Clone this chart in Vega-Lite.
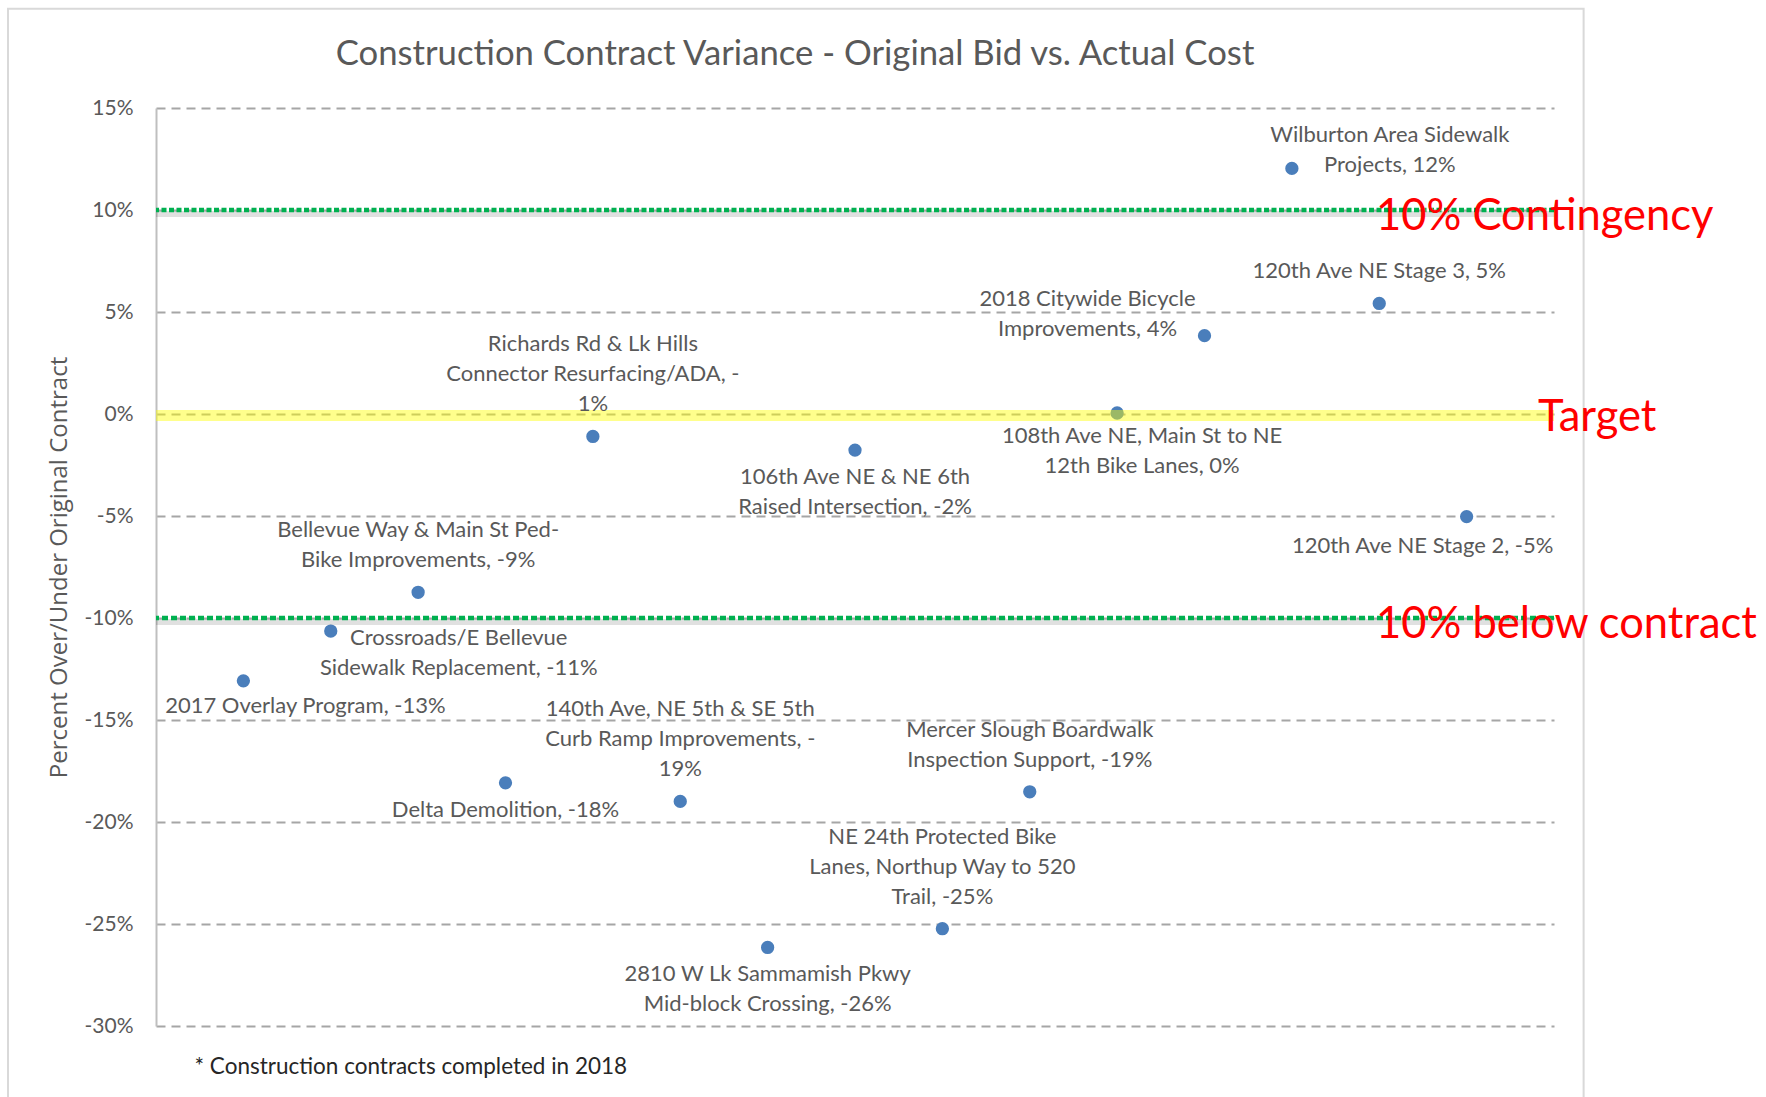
{
  "$schema": "https://vega.github.io/schema/vega-lite/v6.json",
  "width": 1398,
  "height": 918,
  "autosize": {"type": "none"},
  "padding": {"left": 156, "top": 108, "right": 212, "bottom": 71},
  "background": "#ffffff",
  "config": {"view": {"stroke": null}},
  "title": {
    "text": "Construction Contract Variance - Original Bid vs. Actual Cost",
    "font": "Lato", "fontSize": 34.7, "fontWeight": "normal", "color": "#595959",
    "anchor": "middle", "frame": "group", "dx": -60, "baseline": "alphabetic", "offset": 0, "dy": 92
  },
  "datasets": {
    "projects": [
      {"n": 1, "pct": -13.08, "label": "2017 Overlay Program, -13%"},
      {"n": 2, "pct": -10.64, "label": "Crossroads/E Bellevue\nSidewalk Replacement, -11%"},
      {"n": 3, "pct": -8.74, "label": "Bellevue Way & Main St Ped-\nBike Improvements, -9%"},
      {"n": 4, "pct": -18.08, "label": "Delta Demolition, -18%"},
      {"n": 5, "pct": -1.10, "label": "Richards Rd & Lk Hills\nConnector Resurfacing/ADA, -\n1%"},
      {"n": 6, "pct": -18.99, "label": "140th Ave, NE 5th & SE 5th\nCurb Ramp Improvements, -\n19%"},
      {"n": 7, "pct": -26.15, "label": "2810 W Lk Sammamish Pkwy\nMid-block Crossing, -26%"},
      {"n": 8, "pct": -1.77, "label": "106th Ave NE & NE 6th\nRaised Intersection, -2%"},
      {"n": 9, "pct": -25.23, "label": "NE 24th Protected Bike\nLanes, Northup Way to 520\nTrail, -25%"},
      {"n": 10, "pct": -18.52, "label": "Mercer Slough Boardwalk\nInspection Support, -19%"},
      {"n": 11, "pct": 0.05, "label": "108th Ave NE, Main St to NE\n12th Bike Lanes, 0%"},
      {"n": 12, "pct": 3.84, "label": "2018 Citywide Bicycle\nImprovements, 4%"},
      {"n": 13, "pct": 12.04, "label": "Wilburton Area Sidewalk\nProjects, 12%"},
      {"n": 14, "pct": 5.42, "label": "120th Ave NE Stage 3, 5%"},
      {"n": 15, "pct": -5.03, "label": "120th Ave NE Stage 2, -5%"}
    ],
    "refs": [
      {"pct": 10, "note": "10% Contingency"},
      {"pct": 0, "note": "Target"},
      {"pct": -10, "note": "10% below contract"}
    ]
  },
  "layer": [
    {
      "data": {"values": [{}]},
      "mark": {"type": "rect", "fill": "transparent", "stroke": "#D9D9D9", "strokeWidth": 2},
      "encoding": {
        "x": {"datum": -1.694}, "x2": {"datum": 16.339},
        "y": {"datum": 19.87}, "y2": {"datum": -33.7}
      }
    },
    {
      "data": {"name": "projects"},
      "mark": {"type": "circle", "size": 177, "color": "#4A7EBB", "opacity": 1},
      "encoding": {
        "x": {"field": "n", "type": "quantitative", "scale": {"domain": [0, 16], "nice": false},
          "axis": {"title": "* Construction contracts completed in 2018", "domain": false, "ticks": false, "labels": false, "grid": false,
            "titleFont": "Lato", "titleFontSize": 22.5, "titleFontWeight": "normal", "titleColor": "#262626",
            "titleX": 38, "titleY": 40, "titleAlign": "left", "titleBaseline": "middle", "titleAnchor": "start"}},
        "y": {"field": "pct", "type": "quantitative", "title": "Percent Over/Under Original Contract",
          "scale": {"domain": [-30, 15], "nice": false, "zero": false},
          "axis": {"values": [-30, -25, -20, -15, -10, -5, 0, 5, 10, 15], "labelExpr": "datum.value + '%'",
            "domainColor": "#BFBFBF", "domainWidth": 2, "ticks": false, "labelPadding": 23,
            "labelFont": "Lato", "labelFontSize": 21, "labelColor": "#595959",
            "grid": true, "gridColor": "#A6A6A6", "gridDash": [9, 6], "gridWidth": 2,
            "titleFont": "Open Sans", "titleFontSize": 24, "titleFontWeight": "normal", "titleColor": "#595959",
            "titleX": -97, "titleY": 459, "titleAngle": -90, "titleAlign": "center", "titleBaseline": "middle"}}
      }
    },
    {
      "data": {"name": "refs"},
      "transform": [{"filter": {"field": "pct", "oneOf": [10, -10]}}],
      "mark": {"type": "rule", "color": "#000000", "opacity": 0.12, "strokeWidth": 6, "yOffset": 4},
      "encoding": {"y": {"field": "pct", "type": "quantitative", "title": "Percent Over/Under Original Contract"}}
    },
    {
      "data": {"name": "refs"},
      "transform": [{"filter": {"field": "pct", "equal": 10}}],
      "mark": {"type": "rule", "color": "#00B050", "strokeWidth": 4.5, "strokeDash": [5, 2.5]},
      "encoding": {"y": {"field": "pct", "type": "quantitative", "title": "Percent Over/Under Original Contract"}}
    },
    {
      "data": {"name": "refs"},
      "transform": [{"filter": {"field": "pct", "equal": -10}}],
      "mark": {"type": "rule", "color": "#00B050", "strokeWidth": 4.5, "strokeDash": [6, 3]},
      "encoding": {"y": {"field": "pct", "type": "quantitative", "title": "Percent Over/Under Original Contract"}}
    },
    {
      "data": {"name": "refs"},
      "transform": [{"filter": {"field": "pct", "equal": 0}}],
      "mark": {"type": "rule", "color": "#FFFF00", "opacity": 0.45, "strokeWidth": 11, "yOffset": 1.5},
      "encoding": {"y": {"field": "pct", "type": "quantitative", "title": "Percent Over/Under Original Contract"}}
    },
    {
      "data": {"name": "projects"},
      "transform": [{"filter": {"field": "n", "equal": 14}}],
      "mark": {"type": "text", "font": "Lato", "fontSize": 22, "color": "#595959", "lineBreak": "\n", "lineHeight": 30, "align": "center", "baseline": "bottom", "dy": -20},
      "encoding": {
        "x": {"field": "n", "type": "quantitative", "title": "* Construction contracts completed in 2018"},
        "y": {"field": "pct", "type": "quantitative", "title": "Percent Over/Under Original Contract"},
        "text": {"field": "label"}
      }
    },
    {
      "data": {"name": "projects"},
      "transform": [{"filter": {"field": "n", "oneOf": [3, 10]}}],
      "mark": {"type": "text", "font": "Lato", "fontSize": 22, "color": "#595959", "lineBreak": "\n", "lineHeight": 30, "align": "center", "baseline": "bottom", "dy": -50},
      "encoding": {
        "x": {"field": "n", "type": "quantitative", "title": "* Construction contracts completed in 2018"},
        "y": {"field": "pct", "type": "quantitative", "title": "Percent Over/Under Original Contract"},
        "text": {"field": "label"}
      }
    },
    {
      "data": {"name": "projects"},
      "transform": [{"filter": {"field": "n", "oneOf": [5, 6, 9]}}],
      "mark": {"type": "text", "font": "Lato", "fontSize": 22, "color": "#595959", "lineBreak": "\n", "lineHeight": 30, "align": "center", "baseline": "bottom", "dy": -80},
      "encoding": {
        "x": {"field": "n", "type": "quantitative", "title": "* Construction contracts completed in 2018"},
        "y": {"field": "pct", "type": "quantitative", "title": "Percent Over/Under Original Contract"},
        "text": {"field": "label"}
      }
    },
    {
      "data": {"name": "projects"},
      "transform": [{"filter": {"field": "n", "oneOf": [4, 7, 8]}}],
      "mark": {"type": "text", "font": "Lato", "fontSize": 22, "color": "#595959", "lineBreak": "\n", "lineHeight": 30, "align": "center", "baseline": "top", "dy": 17},
      "encoding": {
        "x": {"field": "n", "type": "quantitative", "title": "* Construction contracts completed in 2018"},
        "y": {"field": "pct", "type": "quantitative", "title": "Percent Over/Under Original Contract"},
        "text": {"field": "label"}
      }
    },
    {
      "data": {"name": "projects"},
      "transform": [{"filter": {"field": "n", "equal": 1}}],
      "mark": {"type": "text", "font": "Lato", "fontSize": 22, "color": "#595959", "lineBreak": "\n", "lineHeight": 30, "align": "center", "baseline": "middle", "dx": 62, "dy": 25},
      "encoding": {
        "x": {"field": "n", "type": "quantitative", "title": "* Construction contracts completed in 2018"},
        "y": {"field": "pct", "type": "quantitative", "title": "Percent Over/Under Original Contract"},
        "text": {"field": "label"}
      }
    },
    {
      "data": {"name": "projects"},
      "transform": [{"filter": {"field": "n", "equal": 2}}],
      "mark": {"type": "text", "font": "Lato", "fontSize": 22, "color": "#595959", "lineBreak": "\n", "lineHeight": 30, "align": "center", "baseline": "middle", "dx": 128, "dy": 7},
      "encoding": {
        "x": {"field": "n", "type": "quantitative", "title": "* Construction contracts completed in 2018"},
        "y": {"field": "pct", "type": "quantitative", "title": "Percent Over/Under Original Contract"},
        "text": {"field": "label"}
      }
    },
    {
      "data": {"name": "projects"},
      "transform": [{"filter": {"field": "n", "equal": 11}}],
      "mark": {"type": "text", "font": "Lato", "fontSize": 22, "color": "#595959", "lineBreak": "\n", "lineHeight": 30, "align": "center", "baseline": "middle", "dx": 25, "dy": 23},
      "encoding": {
        "x": {"field": "n", "type": "quantitative", "title": "* Construction contracts completed in 2018"},
        "y": {"field": "pct", "type": "quantitative", "title": "Percent Over/Under Original Contract"},
        "text": {"field": "label"}
      }
    },
    {
      "data": {"name": "projects"},
      "transform": [{"filter": {"field": "n", "equal": 12}}],
      "mark": {"type": "text", "font": "Lato", "fontSize": 22, "color": "#595959", "lineBreak": "\n", "lineHeight": 30, "align": "center", "baseline": "middle", "dx": -117, "dy": -37},
      "encoding": {
        "x": {"field": "n", "type": "quantitative", "title": "* Construction contracts completed in 2018"},
        "y": {"field": "pct", "type": "quantitative", "title": "Percent Over/Under Original Contract"},
        "text": {"field": "label"}
      }
    },
    {
      "data": {"name": "projects"},
      "transform": [{"filter": {"field": "n", "equal": 13}}],
      "mark": {"type": "text", "font": "Lato", "fontSize": 22, "color": "#595959", "lineBreak": "\n", "lineHeight": 30, "align": "center", "baseline": "middle", "dx": 98, "dy": -33},
      "encoding": {
        "x": {"field": "n", "type": "quantitative", "title": "* Construction contracts completed in 2018"},
        "y": {"field": "pct", "type": "quantitative", "title": "Percent Over/Under Original Contract"},
        "text": {"field": "label"}
      }
    },
    {
      "data": {"name": "projects"},
      "transform": [{"filter": {"field": "n", "equal": 15}}],
      "mark": {"type": "text", "font": "Lato", "fontSize": 22, "color": "#595959", "lineBreak": "\n", "lineHeight": 30, "align": "center", "baseline": "middle", "dx": -44, "dy": 29},
      "encoding": {
        "x": {"field": "n", "type": "quantitative", "title": "* Construction contracts completed in 2018"},
        "y": {"field": "pct", "type": "quantitative", "title": "Percent Over/Under Original Contract"},
        "text": {"field": "label"}
      }
    },
    {
      "data": {"name": "refs"},
      "transform": [{"filter": {"field": "pct", "oneOf": [10, -10]}}],
      "mark": {"type": "text", "font": "Lato", "fontSize": 43.5, "color": "#FF0000", "align": "left", "baseline": "alphabetic", "dx": -178, "dy": 20},
      "encoding": {
        "x": {"datum": 16},
        "y": {"field": "pct", "type": "quantitative", "title": "Percent Over/Under Original Contract"},
        "text": {"field": "note"}
      }
    },
    {
      "data": {"name": "refs"},
      "transform": [{"filter": {"field": "pct", "equal": 0}}],
      "mark": {"type": "text", "font": "Lato", "fontSize": 43.5, "color": "#FF0000", "align": "left", "baseline": "alphabetic", "dx": -16, "dy": 17},
      "encoding": {
        "x": {"datum": 16},
        "y": {"field": "pct", "type": "quantitative", "title": "Percent Over/Under Original Contract"},
        "text": {"field": "note"}
      }
    }
  ]
}
